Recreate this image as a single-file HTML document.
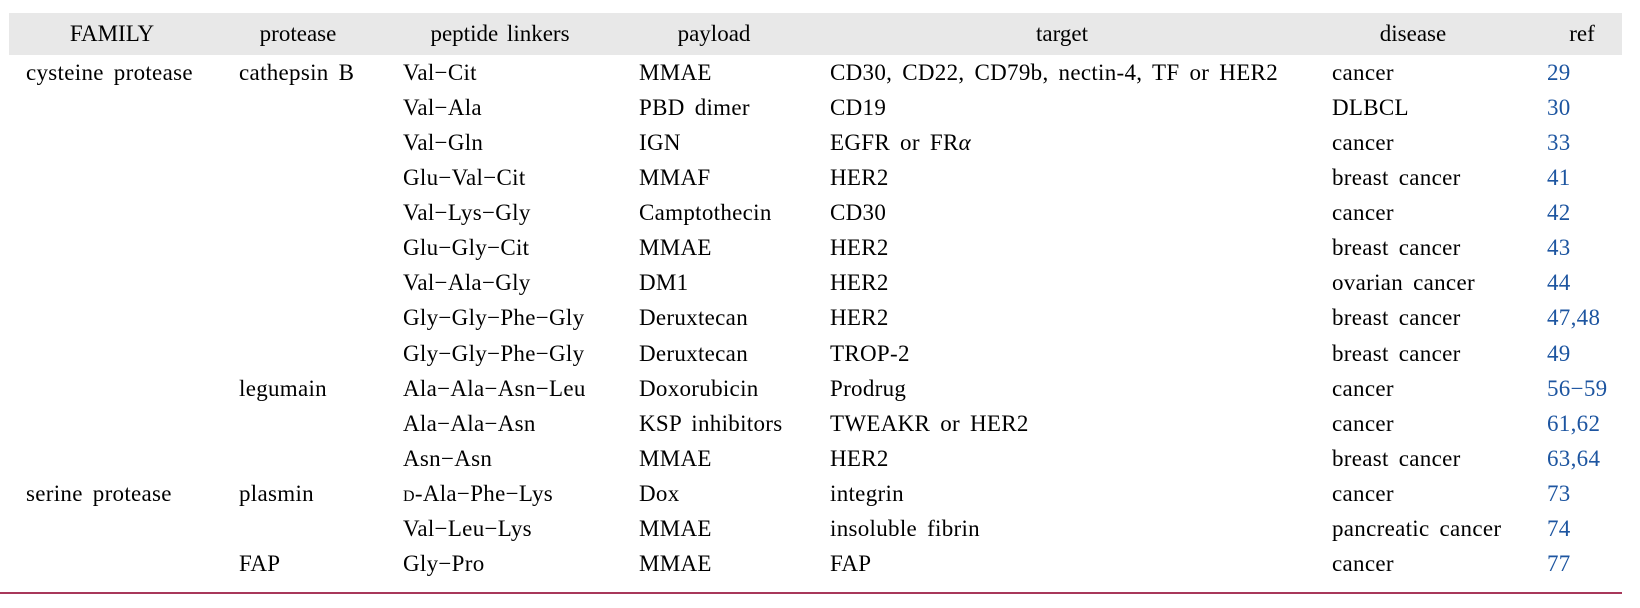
<!DOCTYPE html>
<html><head><meta charset="utf-8"><style>
body{margin:0;width:1640px;height:608px;background:#fff;position:relative;overflow:hidden;font-family:"Liberation Serif",serif;font-size:23px;color:#000;}
.hd{position:absolute;left:9px;top:13px;width:1613px;height:42px;background:#e8e8e8;}
.h{position:absolute;top:13px;line-height:42px;transform:translateX(-50%);white-space:nowrap;word-spacing:3px}
.r{position:absolute;left:0;width:1640px;height:35px;line-height:35px;}
.r span{position:absolute;white-space:nowrap;word-spacing:4px;letter-spacing:0.3px}
.a{left:26px}.b{left:239px}.c{left:403px}.d{left:639px}.e{left:830px}.f{left:1332px}.g{left:1547px;color:#1d55a0}
.line{position:absolute;left:0;top:592px;width:1622px;height:2px;background:#a8385a;}
.sc{font-variant:small-caps}
</style></head><body>
<div class="hd"></div>
<div class="h" style="left:112px">FAMILY</div>
<div class="h" style="left:298px">protease</div>
<div class="h" style="left:500px">peptide linkers</div>
<div class="h" style="left:714px">payload</div>
<div class="h" style="left:1062px">target</div>
<div class="h" style="left:1413px">disease</div>
<div class="h" style="left:1582px">ref</div>

<div class="r" style="top:55px"><span class="a">cysteine protease</span><span class="b">cathepsin B</span><span class="c">Val−Cit</span><span class="d">MMAE</span><span class="e">CD30, CD22, CD79b, nectin-4, TF or HER2</span><span class="f">cancer</span><span class="g">29</span></div>
<div class="r" style="top:90px"><span class="c">Val−Ala</span><span class="d">PBD dimer</span><span class="e">CD19</span><span class="f">DLBCL</span><span class="g">30</span></div>
<div class="r" style="top:125px"><span class="c">Val−Gln</span><span class="d">IGN</span><span class="e">EGFR or FR<i>α</i></span><span class="f">cancer</span><span class="g">33</span></div>
<div class="r" style="top:160px"><span class="c">Glu−Val−Cit</span><span class="d">MMAF</span><span class="e">HER2</span><span class="f">breast cancer</span><span class="g">41</span></div>
<div class="r" style="top:195px"><span class="c">Val−Lys−Gly</span><span class="d">Camptothecin</span><span class="e">CD30</span><span class="f">cancer</span><span class="g">42</span></div>
<div class="r" style="top:230px"><span class="c">Glu−Gly−Cit</span><span class="d">MMAE</span><span class="e">HER2</span><span class="f">breast cancer</span><span class="g">43</span></div>
<div class="r" style="top:265px"><span class="c">Val−Ala−Gly</span><span class="d">DM1</span><span class="e">HER2</span><span class="f">ovarian cancer</span><span class="g">44</span></div>
<div class="r" style="top:300px"><span class="c">Gly−Gly−Phe−Gly</span><span class="d">Deruxtecan</span><span class="e">HER2</span><span class="f">breast cancer</span><span class="g">47,48</span></div>
<div class="r" style="top:336px"><span class="c">Gly−Gly−Phe−Gly</span><span class="d">Deruxtecan</span><span class="e">TROP-2</span><span class="f">breast cancer</span><span class="g">49</span></div>
<div class="r" style="top:371px"><span class="b">legumain</span><span class="c">Ala−Ala−Asn−Leu</span><span class="d">Doxorubicin</span><span class="e">Prodrug</span><span class="f">cancer</span><span class="g">56−59</span></div>
<div class="r" style="top:406px"><span class="c">Ala−Ala−Asn</span><span class="d">KSP inhibitors</span><span class="e">TWEAKR or HER2</span><span class="f">cancer</span><span class="g">61,62</span></div>
<div class="r" style="top:441px"><span class="c">Asn−Asn</span><span class="d">MMAE</span><span class="e">HER2</span><span class="f">breast cancer</span><span class="g">63,64</span></div>
<div class="r" style="top:476px"><span class="a">serine protease</span><span class="b">plasmin</span><span class="c"><span class="sc" style="position:static">d</span>-Ala−Phe−Lys</span><span class="d">Dox</span><span class="e">integrin</span><span class="f">cancer</span><span class="g">73</span></div>
<div class="r" style="top:511px"><span class="c">Val−Leu−Lys</span><span class="d">MMAE</span><span class="e">insoluble fibrin</span><span class="f">pancreatic cancer</span><span class="g">74</span></div>
<div class="r" style="top:546px"><span class="b">FAP</span><span class="c">Gly−Pro</span><span class="d">MMAE</span><span class="e">FAP</span><span class="f">cancer</span><span class="g">77</span></div>
<div class="line"></div>
</body></html>
